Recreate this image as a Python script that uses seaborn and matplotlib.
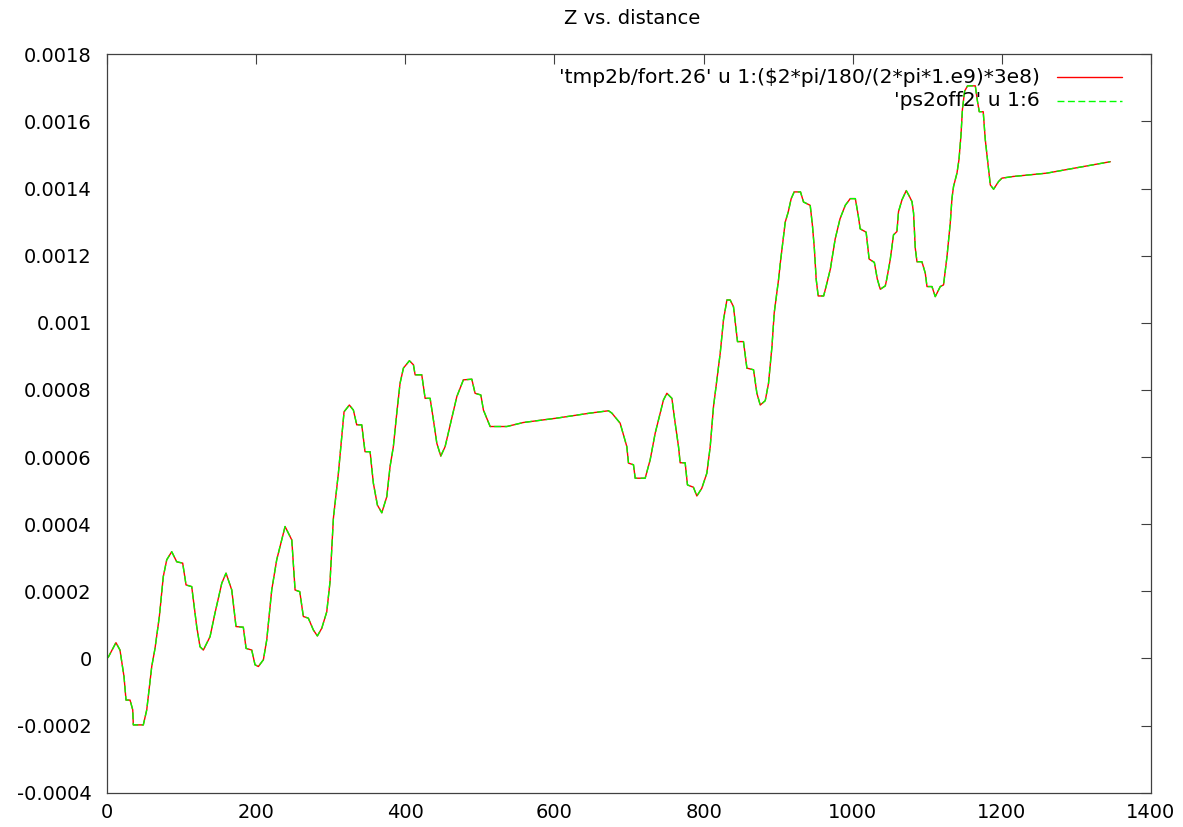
import matplotlib
matplotlib.use("Agg")
import matplotlib.pyplot as plt
from matplotlib.ticker import FixedLocator, FuncFormatter
from matplotlib.lines import Line2D
import seaborn as sns
import pandas as pd

# Z position along the beamline
distance = [
    0, 2, 12, 17.4, 22.8, 25.5, 30.9, 34.5, 35.3, 44.3,
    48.7, 53.3, 60, 64.4, 70.2, 75.5, 80.1, 86.8, 93.5, 101.5,
    106, 113.6, 120.3, 124.7, 129.2, 138.2, 144.9, 153.9, 159.6, 167.3,
    173, 182.8, 186.5, 194.1, 198.5, 203, 209.7, 214.2, 220.9, 227.6,
    234.3, 238.8, 247.8, 252.2, 258.5, 263.3, 270, 276.7, 282.1, 288,
    294.7, 299.1, 303.6, 310.3, 314.8, 317.9, 325, 330.4, 334.9, 341.6,
    346, 352.8, 357.2, 362.6, 368.5, 375.2, 379.6, 384, 388.6, 393,
    397.5, 405.5, 410.9, 413.2, 422.1, 426.6, 433.3, 437.7, 442.3, 447.6,
    453.4, 462.4, 469.1, 477.9, 489.2, 493.6, 501.3, 504.8, 513.8, 536.2,
    558.4, 603.2, 647.9, 672.5, 677, 688.1, 697.1, 699.3, 706, 708.3,
    721.7, 728.4, 735.1, 741.8, 746.2, 750.8, 757.5, 761.9, 766.4, 768.6,
    775.3, 778.4, 786.4, 791, 797.6, 804.4, 808.9, 813.3, 817.9, 822.3,
    826.7, 831.3, 835.7, 840.1, 845.5, 853.5, 858.1, 867, 871.5, 876,
    882.7, 887.1, 891.7, 894.7, 900.5, 903, 909.5, 913.5, 917.5, 921.5,
    930, 934, 943, 946, 948.6, 951, 953.7, 961, 964.5, 970,
    976.5, 983, 990, 996.7, 1003.5, 1007.4, 1010, 1018, 1022, 1029,
    1033, 1037, 1043.7, 1045.9, 1050.3, 1054.7, 1059.3, 1061.4, 1066, 1071.8,
    1076.2, 1079.5, 1081.6, 1083.9, 1086.2, 1092.8, 1097.3, 1099.6, 1106.3, 1110.7,
    1117.4, 1121.8, 1126.4, 1130.8, 1133.1, 1135.2, 1139.8, 1142.5, 1145.2, 1147.1,
    1150, 1154, 1164.4, 1167, 1169.7, 1175, 1177.8, 1182.2, 1184.5, 1188.9,
    1195.6, 1200.1, 1215.3, 1260.5, 1345.4,
]

# Z offset computed from the phase column of tmp2b/fort.26
z_fort26 = [
    0.0, 0.000005, 0.000047, 0.000025, -0.000054, -0.000124, -0.000124, -0.000153, -0.000198, -0.000198,
    -0.000198, -0.000153, -0.000024, 0.00003, 0.000125, 0.000244, 0.000294, 0.000318, 0.000288, 0.000284,
    0.000219, 0.000214, 0.000095, 0.000035, 0.000025, 0.000065, 0.000136, 0.000224, 0.000254, 0.000204,
    0.000095, 0.000093, 0.00003, 0.000025, -0.000019, -0.000024, -0.000004, 0.000055, 0.000204, 0.000294,
    0.000353, 0.000393, 0.000353, 0.000204, 0.000199, 0.000125, 0.00012, 0.000085, 0.000067, 0.00009,
    0.000139, 0.000229, 0.000418, 0.000552, 0.000661, 0.000735, 0.000755, 0.00074, 0.000696, 0.000696,
    0.000616, 0.000616, 0.000522, 0.000457, 0.000434, 0.000482, 0.000572, 0.000631, 0.000731, 0.00082,
    0.000865, 0.000887, 0.000875, 0.000845, 0.000845, 0.000775, 0.000775, 0.000711, 0.000641, 0.000603,
    0.000631, 0.000716, 0.00078, 0.00083, 0.000832, 0.00079, 0.000785, 0.00074, 0.000691, 0.000691,
    0.000703, 0.000716, 0.000731, 0.000738, 0.000731, 0.000701, 0.000631, 0.000582, 0.000577, 0.000537,
    0.000537, 0.000592, 0.000671, 0.000731, 0.00077, 0.00079, 0.000775, 0.000701, 0.000631, 0.000583,
    0.000583, 0.000517, 0.00051, 0.000484, 0.000507, 0.000552, 0.000631, 0.00075, 0.00083, 0.000909,
    0.001009, 0.001068, 0.001068, 0.001048, 0.000944, 0.000944, 0.000865, 0.00086, 0.00079, 0.000755,
    0.000768, 0.00082, 0.000929, 0.001029, 0.001128, 0.00118, 0.0013, 0.00133, 0.00137, 0.00139,
    0.00139, 0.00136, 0.00135, 0.00129, 0.00122, 0.00113, 0.00108, 0.00108, 0.00111, 0.00116,
    0.00125, 0.00131, 0.00135, 0.00137, 0.00137, 0.00132, 0.00128, 0.00127, 0.00119, 0.00118,
    0.00113, 0.0011, 0.00111, 0.001133, 0.001188, 0.001262, 0.001272, 0.001331, 0.001366, 0.001394,
    0.001376, 0.001361, 0.001327, 0.001222, 0.001182, 0.001182, 0.001148, 0.001108, 0.001108, 0.001078,
    0.001108, 0.001113, 0.001197, 0.001297, 0.001371, 0.001406, 0.001446, 0.001486, 0.00156, 0.001635,
    0.00169, 0.001706, 0.001706, 0.001664, 0.001629, 0.001629, 0.001545, 0.001456, 0.001411, 0.001398,
    0.001421, 0.001431, 0.001436, 0.001446, 0.00148,
]

# ps2off2 column 6 follows the same track
z_ps2off2 = list(z_fort26)

series_labels = [
    "'tmp2b/fort.26' u 1:($2*pi/180/(2*pi*1.e9)*3e8)",
    "'ps2off2' u 1:6",
]
y_ticks = [-0.0004, -0.0002, 0.0, 0.0002, 0.0004, 0.0006, 0.0008,
           0.001, 0.0012, 0.0014, 0.0016, 0.0018]
x_ticks = [0, 200, 400, 600, 800, 1000, 1200, 1400]

df = pd.concat([
    pd.DataFrame({"distance": distance, "z": z_fort26, "src": series_labels[0]}),
    pd.DataFrame({"distance": distance, "z": z_ps2off2, "src": series_labels[1]}),
])

sns.set_style("white")
plt.rcParams["font.family"] = ["DejaVu Sans"]

W, H = 1183, 827
fig = plt.figure(figsize=(W / 100, H / 100), dpi=100)
fig.subplots_adjust(left=107 / W, right=1151 / W, bottom=1 - 792.7 / H, top=1 - 54.3 / H)
ax = fig.add_subplot(111)

colors = {series_labels[0]: "#ff0000", series_labels[1]: "#00ff00"}
styles = {series_labels[0]: "-", series_labels[1]: (0, (5, 2.5))}

for lab in series_labels:
    sub = df[df["src"] == lab]
    sns.lineplot(data=sub, x="distance", y="z", ax=ax, color=colors[lab],
                 linestyle=styles[lab], linewidth=1.0, estimator=None,
                 sort=False, legend=False)

ax.set_xlim(0, 1400)
ax.set_ylim(-0.0004, 0.0018)
ax.xaxis.set_major_locator(FixedLocator(x_ticks))
ax.yaxis.set_major_locator(FixedLocator(y_ticks))
ax.yaxis.set_major_formatter(FuncFormatter(lambda v, p: "%g" % round(v, 6)))
ax.xaxis.set_major_formatter(FuncFormatter(lambda v, p: "%g" % v))
ax.set_xlabel("")
ax.set_ylabel("")

frame_col = "#404040"
for sp in ax.spines.values():
    sp.set_visible(True)
    sp.set_color(frame_col)
    sp.set_linewidth(0.9)
ax.tick_params(axis="both", which="major", direction="in", length=7, width=0.8,
               color=frame_col, labelsize=14, labelcolor="black",
               top=True, right=True)
ax.tick_params(axis="x", pad=7.5)
ax.tick_params(axis="y", pad=11)
ax.grid(False)

# key in the upper right: right-aligned labels followed by line samples
key_rows = [0.969, 0.9368]
for lab, yk in zip(series_labels, key_rows):
    ax.text(0.8937, yk, lab, transform=ax.transAxes, ha="right", va="center",
            fontsize=14.6, color="black")
    ax.add_line(Line2D([0.910, 0.9722], [yk, yk], transform=ax.transAxes,
                       color=colors[lab], linestyle=styles[lab], linewidth=1.0))

fig.text(632 / W, 1 - 18 / H, "Z vs. distance", ha="center", va="center",
         fontsize=14, color="black")

fig.savefig("out.png", dpi=100)
